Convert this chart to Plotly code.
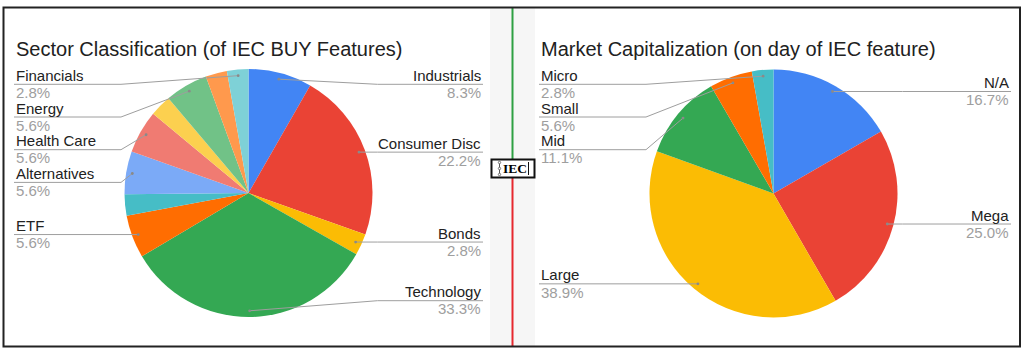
import math
import plotly.graph_objects as go

# ---------------- data ----------------
sector_names = ["Industrials", "Consumer Disc", "Bonds", "Technology", "ETF",
                "Other sector A", "Alternatives", "Health Care", "Other sector B",
                "Energy", "Other sector C", "Financials"]
sector_pct = [8.3, 22.2, 2.8, 33.3, 5.6, 2.8, 5.6, 5.6, 2.8, 5.6, 2.8, 2.8]
sector_labeled = [True, True, True, True, True, False, True, True, False, True, False, True]

cap_names = ["N/A", "Mega", "Large", "Mid", "Small", "Micro"]
cap_pct = [16.7, 25.0, 38.9, 11.1, 5.6, 2.8]
cap_labeled = [True, True, True, True, True, True]

titles = ["Sector Classification (of IEC BUY Features)",
          "Market Capitalization (on day of IEC feature)"]
logo_text = "IEC"

# ---------------- styling / layout constants ----------------
W, H = 1024, 352
palette = ["#4285F4", "#EA4335", "#FBBC04", "#34A853", "#FF6D01", "#46BDC6",
           "#7BAAF7", "#F07B72", "#FCD04F", "#71C287", "#FF994D", "#7ED1D7"]
FONT = "Arial, Liberation Sans, sans-serif"
NAME_COLOR = "#222222"
PCT_COLOR = "#9e9e9e"
LINE_COLOR = "#9e9e9e"

panels = [
    dict(names=sector_names, vals=sector_pct, show=sector_labeled, title=titles[0],
         cx=248.5, cy=193.0, r=124.0, left_x=14.0, right_x=483.0),
    dict(names=cap_names, vals=cap_pct, show=cap_labeled, title=titles[1],
         cx=773.5, cy=193.5, r=124.0, left_x=539.0, right_x=1011.0),
]
LAB_TOP, LAB_BOTTOM, LAB_GAP = 84.3, 300.7, 32.7

fig = go.Figure()
shapes = []
annotations = []

# frame, middle strip, divider lines
shapes.append(dict(type="rect", xref="x", yref="y", x0=490, x1=535, y0=8, y1=346,
                   fillcolor="#f6f6f6", line=dict(width=0), layer="below"))
shapes.append(dict(type="line", xref="x", yref="y", x0=512.5, x1=512.5, y0=8, y1=159,
                   line=dict(color="#2ea043", width=2), layer="above"))
shapes.append(dict(type="line", xref="x", yref="y", x0=512.5, x1=512.5, y0=178, y1=346,
                   line=dict(color="#e6282e", width=2), layer="above"))
shapes.append(dict(type="rect", xref="x", yref="y", x0=3.5, x1=1020, y0=7.5, y1=346.5,
                   line=dict(color="#222222", width=2), layer="above"))
# logo box
shapes.append(dict(type="rect", xref="x", yref="y", x0=491.5, x1=534.5, y0=159.5, y1=177.5,
                   fillcolor="white", line=dict(color="#111111", width=2), layer="above"))
shapes.append(dict(type="line", xref="x", yref="y", x0=499.5, x1=499.5, y0=162, y1=175,
                   line=dict(color="#555555", width=1), layer="above"))
for yy in (162.5, 168.5, 174.5):
    shapes.append(dict(type="circle", xref="x", yref="y", x0=498.3, x1=500.7, y0=yy - 1.2, y1=yy + 1.2,
                       fillcolor="white", line=dict(color="#555555", width=0.8), layer="above"))
shapes.append(dict(type="line", xref="x", yref="y", x0=528.5, x1=528.5, y0=162, y1=175,
                   line=dict(color="#111111", width=1), layer="above"))
annotations.append(dict(x=514.5, y=168.8, xref="x", yref="y", text="<b>" + logo_text + "</b>",
                        showarrow=False, xanchor="center", yanchor="middle",
                        font=dict(family="Liberation Serif, Times New Roman, serif", size=13.5,
                                  color="#000000")))

for p in panels:
    cx, cy, r = p["cx"], p["cy"], p["r"]
    fig.add_trace(go.Pie(
        labels=p["names"], values=p["vals"], sort=False, direction="clockwise",
        rotation=0, textinfo="none", showlegend=False,
        marker=dict(colors=palette[:len(p["vals"])], line=dict(width=0)),
        domain=dict(x=[(cx - r) / W, (cx + r) / W],
                    y=[(H - cy - r) / H, (H - cy + r) / H]),
        hoverinfo="label+percent",
    ))
    annotations.append(dict(x=p["left_x"], y=48.5, xref="x", yref="y", text=p["title"],
                            showarrow=False, xanchor="left", yanchor="middle",
                            font=dict(family=FONT, size=20, color="#212121")))

    total = sum(p["vals"])
    cum = 0.0
    items = {"left": [], "right": []}
    for name, v, show in zip(p["names"], p["vals"], p["show"]):
        theta = math.radians(360.0 * (cum + v / 2.0) / total)
        cum += v
        if not show:
            continue
        ax = cx + 0.95 * r * math.sin(theta)
        ay = cy - 0.95 * r * math.cos(theta)
        side = "right" if ax >= cx else "left"
        items[side].append(dict(name=name, v=v, ax=ax, ay=ay))

    for side, lst in items.items():
        lst.sort(key=lambda d: d["ay"])
        prev = None
        for d in lst:
            y = min(max(d["ay"], LAB_TOP), LAB_BOTTOM)
            if prev is not None:
                y = max(y, prev + LAB_GAP)
            d["ly"] = y
            prev = y
        for d in lst:
            ly = d["ly"]
            if side == "left":
                tx, elbow, anchor = p["left_x"], cx - r - 3.5, "left"
            else:
                tx, elbow, anchor = p["right_x"], cx + r + 5.0, "right"
            shapes.append(dict(type="path", xref="x", yref="y",
                               path=f"M {tx},{ly} L {elbow},{ly} L {d['ax']},{d['ay']}",
                               line=dict(color=LINE_COLOR, width=1), layer="above"))
            shapes.append(dict(type="circle", xref="x", yref="y",
                               x0=d["ax"] - 1.4, x1=d["ax"] + 1.4, y0=d["ay"] - 1.4, y1=d["ay"] + 1.4,
                               fillcolor="#8a8a8a", line=dict(width=0), layer="above"))
            annotations.append(dict(x=tx, y=ly - 8.9, xref="x", yref="y", text=d["name"],
                                    showarrow=False, xanchor=anchor, yanchor="middle",
                                    font=dict(family=FONT, size=15, color=NAME_COLOR)))
            annotations.append(dict(x=tx, y=ly + 8.2, xref="x", yref="y",
                                    text=f"{d['v']:.1f}%",
                                    showarrow=False, xanchor=anchor, yanchor="middle",
                                    font=dict(family=FONT, size=15, color=PCT_COLOR)))

# overlay pixel-space axes used for the frame, leader lines and labels
fig.add_trace(go.Scatter(x=[], y=[], showlegend=False, hoverinfo="skip"))
fig.update_layout(
    width=W, height=H, margin=dict(l=0, r=0, t=0, b=0),
    paper_bgcolor="white", plot_bgcolor="rgba(0,0,0,0)",
    xaxis=dict(range=[0, W], domain=[0, 1], visible=False, fixedrange=True),
    yaxis=dict(range=[H, 0], domain=[0, 1], visible=False, fixedrange=True),
    shapes=shapes, annotations=annotations,
)
fig.write_html("out.html")
